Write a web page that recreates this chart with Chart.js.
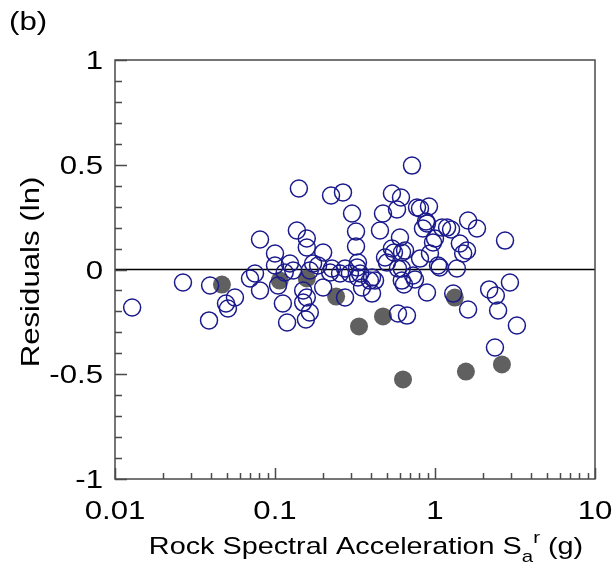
<!DOCTYPE html>
<html>
<head>
<meta charset="utf-8">
<script src="https://cdn.jsdelivr.net/npm/chart.js@4/dist/chart.umd.min.js"></script>
<style>
  body{margin:0;background:#fff;}
  #wrap{width:615px;height:566px;}
</style>
</head>
<body>
<div id="wrap"><canvas id="myChart" width="615" height="566"></canvas></div>
<script>
// open circles (Sa rock, residual)
var openX = [0.0128,0.0266,0.0393,0.0494,0.0562,0.0508,0.0387,0.0698,0.075,0.0806,
             0.0806,0.1,0.1,0.1045,0.112,0.119,0.124,0.137,0.158,0.158,
             0.141,0.224,0.266,0.303,0.321,0.321,0.2,0.173,0.186,0.15,
             0.158,0.15,0.165,0.156,0.274,0.13,0.165,0.221,0.255,0.294,
             0.326,0.2,0.115,0.227,0.274,0.34,0.718,0.538,0.613,0.772,
             0.917,0.473,0.579,0.453,0.891,0.841,1.0,1.19,1.106,1.61,
             1.83,0.604,0.538,0.622,0.65,0.487,0.806,0.93,1.43,1.585,
             1.5,0.33,0.587,0.62,0.729,1.045,1.37,0.33,0.404,0.392,
             0.422,0.62,0.404,0.891,0.501,1.3,1.61,0.587,0.668,2.74,
             2.94,2.18,2.4,2.48,3.25,2.37,0.35,0.75,0.64,1.07,
             0.972,0.879,0.806,0.554,1.26];
var openY = [-0.181,-0.062,-0.076,-0.162,-0.134,-0.186,-0.243,-0.043,-0.019,-0.1,
             0.143,0.076,0.019,-0.076,-0.162,-0.253,0.029,0.186,0.148,0.105,
             0.387,0.353,0.368,0.267,0.181,0.11,0.081,0.029,0.019,-0.1,
             -0.134,-0.158,-0.205,-0.239,-0.134,-0.005,-0.005,-0.014,-0.019,-0.019,
             0.01,-0.086,-0.014,0.005,0.005,-0.019,0.496,0.363,0.344,0.296,
             0.301,0.267,0.286,0.186,0.22,0.196,0.148,0.2,0.2,0.234,
             0.196,0.153,0.1,0.081,0.091,0.057,0.052,0.076,0.124,0.091,
             0.076,0.033,0.005,0.005,-0.029,0.019,0.005,-0.038,-0.038,-0.053,
             -0.053,-0.053,-0.115,-0.11,0.033,-0.115,-0.191,-0.21,-0.22,0.138,
             -0.062,-0.095,-0.124,-0.196,-0.267,-0.372,-0.086,-0.048,-0.072,0.01,
             0.129,0.229,0.291,0.081,0.191];

// filled grey circles
var filledX = [0.0466,0.107,0.158,0.241,0.335,0.473,0.631,1.33,1.56,2.62];
var filledY = [-0.072,-0.053,-0.043,-0.129,-0.272,-0.224,-0.525,-0.134,-0.487,-0.453];

var xTicks = [0.01,0.1,1,10];
var xTickLabels = ['0.01','0.1','1','10'];
var xMinor = [0.02,0.03,0.04,0.05,0.06,0.07,0.08,0.09,
              0.2,0.3,0.4,0.5,0.6,0.7,0.8,0.9,
              2,3,4,5,6,7,8,9];
var yTicks = [-1,-0.5,0,0.5,1];
var yTickLabels = ['-1','-0.5','0','0.5','1'];

function pares(xs,ys){
    var r=[];
    for(var i=0;i<xs.length;i++){ r.push({x:xs[i],y:ys[i]}); }
    return r;
}

var FONT = '"Liberation Sans", Arial, sans-serif';
var STRETCH = 1.2;

function texto(ctx,t,x,y,align,size){
    ctx.save();
    ctx.font = size+'px '+FONT;
    ctx.translate(x,y);
    ctx.scale(STRETCH,1);
    ctx.textAlign = align;
    ctx.textBaseline = 'alphabetic';
    ctx.fillText(t,0,0);
    ctx.restore();
}

function ancho(ctx,t,size){
    ctx.save();
    ctx.font = size+'px '+FONT;
    var w = ctx.measureText(t).width*STRETCH;
    ctx.restore();
    return w;
}

var marco = {
    id:'marco',
    beforeDatasetsDraw:function(chart){
        var ctx = chart.ctx, a = chart.chartArea;
        var sy = chart.scales.y;
        ctx.save();
        // zero line
        ctx.strokeStyle = '#000';
        ctx.lineWidth = 1.5;
        ctx.beginPath();
        ctx.moveTo(a.left, sy.getPixelForValue(0));
        ctx.lineTo(a.right, sy.getPixelForValue(0));
        ctx.stroke();
        ctx.restore();
    },
    afterDraw:function(chart){
        var ctx = chart.ctx, a = chart.chartArea;
        var sx = chart.scales.x, sy = chart.scales.y;
        ctx.save();
        ctx.strokeStyle = '#4a4a4a';
        ctx.lineWidth = 1.5;
        ctx.strokeRect(a.left, a.top, a.right-a.left, a.bottom-a.top);

        // y ticks, inward
        ctx.beginPath();
        for(var v=-10; v<=10; v++){
            var py = Math.round(sy.getPixelForValue(v/10))+0.5;
            var len = (v%5==0) ? 12 : 7;
            ctx.moveTo(a.left, py);
            ctx.lineTo(a.left+len, py);
        }
        // x ticks, inward
        for(var i=0;i<xTicks.length;i++){
            var px = Math.round(sx.getPixelForValue(xTicks[i]))+0.5;
            ctx.moveTo(px, a.bottom);
            ctx.lineTo(px, a.bottom-11);
        }
        for(var j=0;j<xMinor.length;j++){
            var pm = Math.round(sx.getPixelForValue(xMinor[j]))+0.5;
            ctx.moveTo(pm, a.bottom);
            ctx.lineTo(pm, a.bottom-6);
        }
        ctx.stroke();

        ctx.fillStyle = '#000';
        // y labels
        for(var k=0;k<yTicks.length;k++){
            texto(ctx, yTickLabels[k], a.left-12, sy.getPixelForValue(yTicks[k])+9, 'right', 26);
        }
        // x labels
        for(var m=0;m<xTicks.length;m++){
            texto(ctx, xTickLabels[m], sx.getPixelForValue(xTicks[m]), 519, 'center', 26);
        }

        // y title
        ctx.save();
        ctx.translate(39, 272);
        ctx.rotate(-Math.PI/2);
        ctx.scale(STRETCH,1);
        ctx.font = '26px '+FONT;
        ctx.textAlign = 'center';
        ctx.fillText('Residuals (ln)', 0, 0);
        ctx.restore();

        // x title with sub/superscript
        var p1 = 'Rock Spectral Acceleration S', p2 = 'a', p3 = 'r', p4 = ' (g)';
        var w = ancho(ctx,p1,24)+ancho(ctx,p2,17)+ancho(ctx,p3,17)+ancho(ctx,p4,24);
        var x0 = 366 - w/2;
        texto(ctx,p1,x0,554,'left',24); x0 += ancho(ctx,p1,24);
        texto(ctx,p2,x0,562,'left',17); x0 += ancho(ctx,p2,17);
        texto(ctx,p3,x0,543,'left',17); x0 += ancho(ctx,p3,17);
        texto(ctx,p4,x0,554,'left',24);

        // panel tag
        texto(ctx,'(b)',9,30,'left',26);
        ctx.restore();
    }
};

var chart = new Chart(document.getElementById('myChart'), {
    type:'scatter',
    data:{
        datasets:[{
            label:'abiertos',
            data:pares(openX,openY),
            pointRadius:8.5,
            pointBorderWidth:1.5,
            pointBorderColor:'#1a1a8c',
            pointBackgroundColor:'rgba(0,0,0,0)',
            pointHoverRadius:8.5
        },{
            label:'rellenos',
            data:pares(filledX,filledY),
            pointRadius:9,
            pointBorderWidth:0,
            pointBackgroundColor:'#606060',
            pointBorderColor:'#606060',
            pointHoverRadius:9
        }]
    },
    options:{
        responsive:false,
        animation:false,
        layout:{padding:{left:115,right:20,top:60,bottom:87}},
        plugins:{legend:{display:false},tooltip:{enabled:false}},
        scales:{
            x:{type:'logarithmic',min:0.01,max:10,display:false},
            y:{type:'linear',min:-1,max:1,display:false}
        }
    },
    plugins:[marco]
});
</script>
</body>
</html>
